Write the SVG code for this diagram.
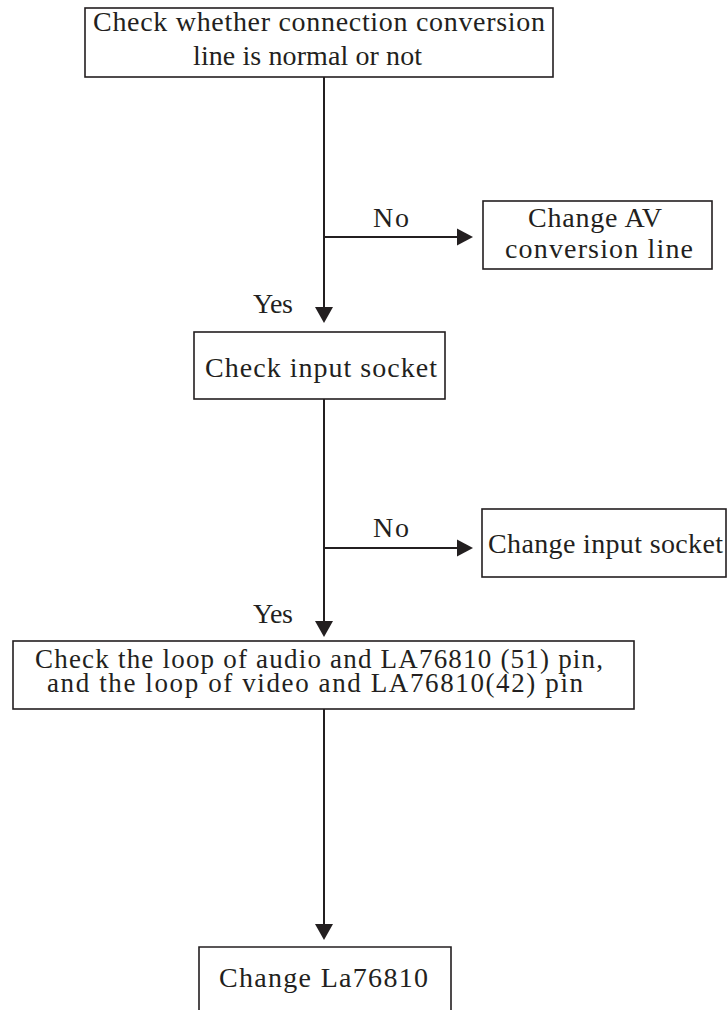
<svg xmlns="http://www.w3.org/2000/svg" width="728" height="1010" viewBox="0 0 728 1010">
<style>
.box{fill:#fff;stroke:#231f20;stroke-width:1.6}
.ln{fill:none;stroke:#231f20;stroke-width:2}
.ah{fill:#231f20;stroke:none}
text{font-family:"Liberation Serif","Times New Roman",serif;font-size:28px;fill:#231f20}
.sm{font-size:27px}
</style>
<rect width="728" height="1010" fill="#fff"/>
<g id="connectors">
<line class="ln" x1="324" y1="77" x2="324" y2="310"/>
<polygon class="ah" points="315,307 333,307 324,323"/>
<line class="ln" x1="324" y1="237" x2="460" y2="237"/>
<polygon class="ah" points="457,228.5 457,245.5 473,237"/>
<line class="ln" x1="324" y1="399" x2="324" y2="624"/>
<polygon class="ah" points="315,621 333,621 324,637"/>
<line class="ln" x1="324" y1="548" x2="460" y2="548"/>
<polygon class="ah" points="457,539.5 457,556.5 473,548"/>
<line class="ln" x1="324" y1="709" x2="324" y2="927"/>
<polygon class="ah" points="315,924 333,924 324,940"/>
<text x="373" y="227" textLength="36" lengthAdjust="spacing">No</text>
<text x="253" y="313" textLength="40" lengthAdjust="spacing">Yes</text>
<text x="373" y="537" textLength="36" lengthAdjust="spacing">No</text>
<text x="253" y="623" textLength="40" lengthAdjust="spacing">Yes</text>
</g>
<g id="n1">
<rect class="box" x="85" y="8" width="468" height="69"/>
<text x="93" y="31" textLength="452" lengthAdjust="spacing">Check whether connection conversion</text>
<text x="193" y="65" textLength="229" lengthAdjust="spacing">line is normal or not</text>
</g>
<g id="n2">
<rect class="box" x="483" y="201" width="229" height="68"/>
<text x="528" y="227" textLength="134" lengthAdjust="spacing">Change AV</text>
<text x="505" y="258" textLength="188" lengthAdjust="spacing">conversion line</text>
</g>
<g id="n3">
<rect class="box" x="194" y="332" width="251" height="67"/>
<text x="205" y="377" textLength="232" lengthAdjust="spacing">Check input socket</text>
</g>
<g id="n4">
<rect class="box" x="482" y="509" width="244" height="68"/>
<text x="488" y="553" textLength="235" lengthAdjust="spacing">Change input socket</text>
</g>
<g id="n5">
<rect class="box" x="13" y="641" width="621" height="68"/>
<text class="sm" x="35" y="668" textLength="568" lengthAdjust="spacing">Check the loop of audio and LA76810 (51) pin,</text>
<text class="sm" x="47" y="692" textLength="536" lengthAdjust="spacing">and the loop of video and LA76810(42) pin</text>
</g>
<g id="n6">
<path class="box" d="M199,1011 V947 H451 V1011"/>
<text x="219" y="987" textLength="209" lengthAdjust="spacing">Change La76810</text>
</g>
</svg>
